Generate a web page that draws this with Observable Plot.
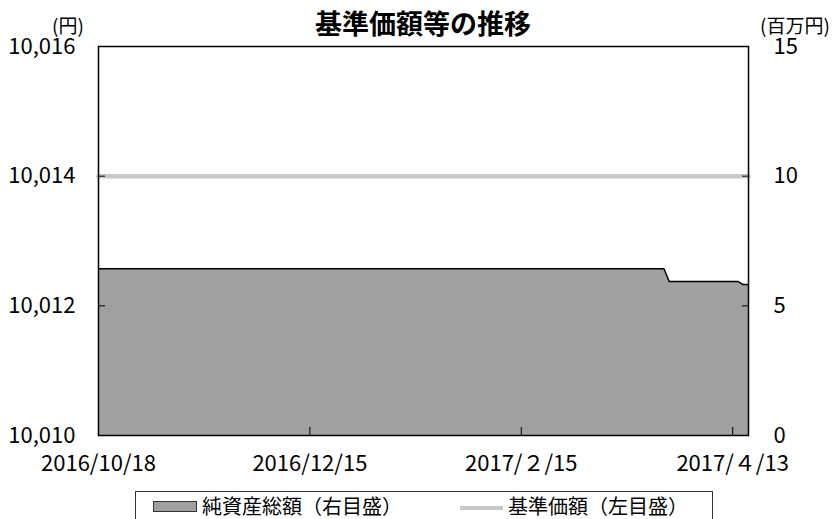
<!DOCTYPE html>
<html><head><meta charset="utf-8">
<script src="https://cdn.jsdelivr.net/npm/d3@7"></script>
<script src="https://cdn.jsdelivr.net/npm/@observablehq/plot@0.6"></script>
<style>
body{margin:0;background:#fff;font-family:"Noto Sans CJK JP",sans-serif;}
#wrap{position:relative;width:839px;height:519px;overflow:hidden;}
.abs{position:absolute;white-space:nowrap;color:#000;line-height:1;}
</style></head><body><div id="wrap"></div>
<script>
// x ticks (business-day index) and their labels
const xTickIndex = [0, 40, 80, 120];
const xTickLabels = ["2016/10/18", "2016/12/15", "2017/２/15", "2017/４/13"];
// left axis (基準価額, 円)
const leftTicks = [10010, 10012, 10014, 10016];
const leftTickLabels = ["10,010", "10,012", "10,014", "10,016"];
// right axis (純資産総額, 百万円)
const rightTickLabels = ["0", "5", "10", "15"];
// 純資産総額 (百万円), one value per business day
const netAssets = [
  6.43,6.43,6.43,6.43,6.43,6.43,6.43,6.43,6.43,6.43,6.43,6.43,
  6.43,6.43,6.43,6.43,6.43,6.43,6.43,6.43,6.43,6.43,6.43,6.43,
  6.43,6.43,6.43,6.43,6.43,6.43,6.43,6.43,6.43,6.43,6.43,6.43,
  6.43,6.43,6.43,6.43,6.43,6.43,6.43,6.43,6.43,6.43,6.43,6.43,
  6.43,6.43,6.43,6.43,6.43,6.43,6.43,6.43,6.43,6.43,6.43,6.43,
  6.43,6.43,6.43,6.43,6.43,6.43,6.43,6.43,6.43,6.43,6.43,6.43,
  6.43,6.43,6.43,6.43,6.43,6.43,6.43,6.43,6.43,6.43,6.43,6.43,
  6.43,6.43,6.43,6.43,6.43,6.43,6.43,6.43,6.43,6.43,6.43,6.43,
  6.43,6.43,6.43,6.43,6.43,6.43,6.43,6.43,6.43,6.43,6.43,6.43,
  5.94,5.94,5.94,5.94,5.94,5.94,5.94,5.94,5.94,5.94,5.94,5.94,
  5.94,5.94,5.82,5.82
];
// 基準価額 (円), one value per business day
const nav = [
  10014,10014,10014,10014,10014,10014,10014,10014,10014,10014,10014,10014,
  10014,10014,10014,10014,10014,10014,10014,10014,10014,10014,10014,10014,
  10014,10014,10014,10014,10014,10014,10014,10014,10014,10014,10014,10014,
  10014,10014,10014,10014,10014,10014,10014,10014,10014,10014,10014,10014,
  10014,10014,10014,10014,10014,10014,10014,10014,10014,10014,10014,10014,
  10014,10014,10014,10014,10014,10014,10014,10014,10014,10014,10014,10014,
  10014,10014,10014,10014,10014,10014,10014,10014,10014,10014,10014,10014,
  10014,10014,10014,10014,10014,10014,10014,10014,10014,10014,10014,10014,
  10014,10014,10014,10014,10014,10014,10014,10014,10014,10014,10014,10014,
  10014,10014,10014,10014,10014,10014,10014,10014,10014,10014,10014,10014,
  10014,10014,10014,10014
];

const leftMin = 10010, leftMax = 10016, rightMax = 15;
const toLeft = v => leftMin + v * (leftMax - leftMin) / rightMax;
const data = netAssets.map((v, i) => ({i, asset: toLeft(v), nav: nav[i]}));

const font = '"Noto Sans CJK JP", sans-serif';
const chart = Plot.plot({
  width: 839, height: 519,
  marginTop: 46, marginBottom: 84, marginLeft: 98, marginRight: 91,
  style: {fontFamily: font, fontSize: "22px", color: "#000", background: "#fff"},
  x: {domain: [0, netAssets.length - 1]},
  y: {domain: [leftMin, leftMax]},
  marks: [
    Plot.areaY(data, {x: "i", y1: leftMin, y2: "asset", fill: "#a0a0a0"}),
    Plot.lineY(data, {x: "i", y: "asset", stroke: "#000", strokeWidth: 1.5}),
    Plot.lineY(data, {x: "i", y: "nav", stroke: "#c8c8c8", strokeWidth: 4.5}),
    Plot.axisY({anchor: "left", ticks: leftTicks, tickSize: -7, tickPadding: 30,
      tickFormat: d => leftTickLabels[leftTicks.indexOf(d)], label: null, stroke: "#000"}),
    Plot.axisY({anchor: "right", ticks: leftTicks, tickSize: -7, tickPadding: 32,
      tickFormat: d => rightTickLabels[leftTicks.indexOf(d)], label: null, textAnchor: "start", stroke: "#000"}),
    Plot.axisX({anchor: "bottom", ticks: xTickIndex, tickSize: -8, tickPadding: 28,
      tickFormat: d => xTickLabels[xTickIndex.indexOf(d)], label: null, stroke: "#000"}),
    Plot.frame({stroke: "#000", strokeWidth: 1.5})
  ]
});
const wrap = document.getElementById("wrap");
wrap.appendChild(chart);
chart.style.position = "absolute"; chart.style.left = "0"; chart.style.top = "0";

function addText(txt, css) {
  const d = document.createElement("div");
  d.className = "abs"; d.textContent = txt;
  Object.assign(d.style, css);
  wrap.appendChild(d);
  return d;
}
addText("基準価額等の推移", {left: "423px", top: "9px", transform: "translateX(-50%)", fontSize: "27px", fontWeight: "bold"});
addText("(円)", {left: "52px", top: "15px", fontSize: "19px"});
addText("(百万円)", {left: "760px", top: "15px", fontSize: "19px"});

const box = document.createElement("div");
Object.assign(box.style, {position: "absolute", left: "135px", top: "491px", width: "576px", height: "40px", border: "1px solid #333"});
wrap.appendChild(box);
const sw1 = document.createElement("div");
Object.assign(sw1.style, {position: "absolute", left: "153px", top: "501px", width: "42px", height: "9px", background: "#a0a0a0", border: "1px solid #333"});
wrap.appendChild(sw1);
addText("純資産総額（右目盛）", {left: "202px", top: "496px", fontSize: "20px"});
const sw2 = document.createElement("div");
Object.assign(sw2.style, {position: "absolute", left: "460px", top: "506px", width: "43px", height: "4px", background: "#c8c8c8"});
wrap.appendChild(sw2);
addText("基準価額（左目盛）", {left: "508px", top: "496px", fontSize: "20px"});
</script></body></html>
